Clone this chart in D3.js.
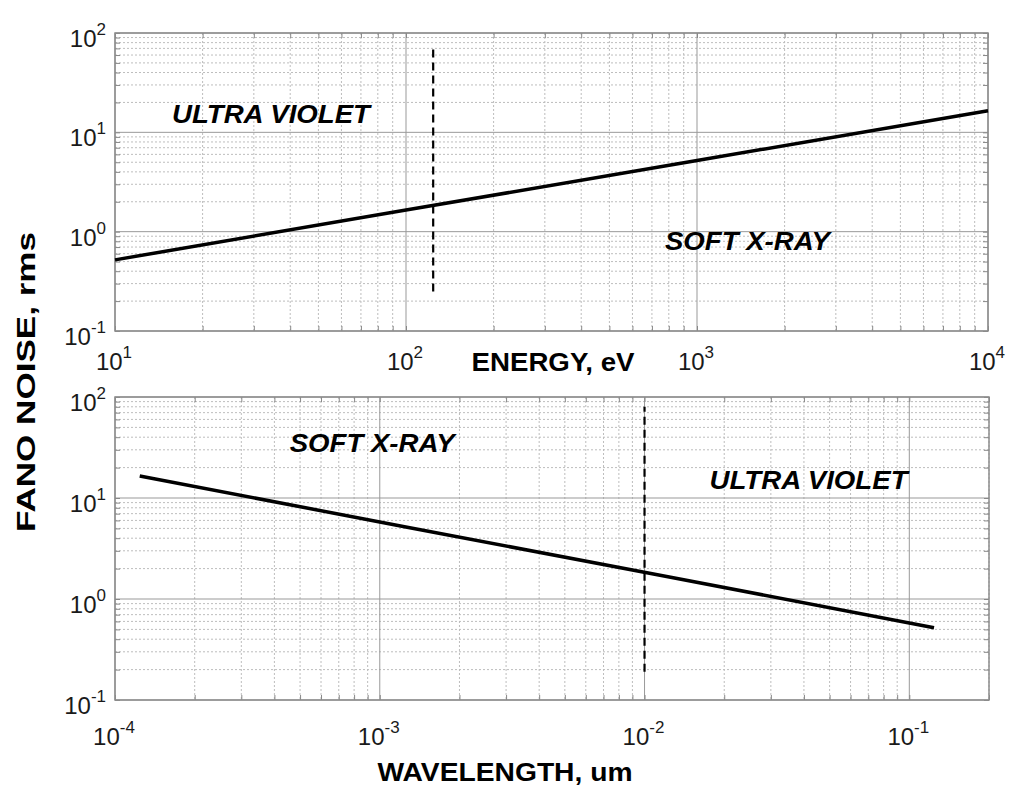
<!DOCTYPE html>
<html>
<head>
<meta charset="utf-8">
<script src="https://cdn.jsdelivr.net/npm/d3@7"></script>
<style>
	body { margin: 0; background: #fff; }
	svg { display: block; font-family: "Liberation Sans", Arial, sans-serif; }
</style>
</head>
<body>
<div id="chart"></div>
<script>
var width = 1024;
var height = 797;

// data
var energy = [10, 100, 1000, 10000];
var fanoEnergy = [0.52, 1.65, 5.2, 16.5];
var wavelength = [1.24e-4, 1.24e-3, 1.24e-2, 0.124];
var fanoWave = [16.5, 5.2, 1.65, 0.52];
var energyTicks = [10, 100, 1000, 10000];
var waveTicks = [1e-4, 1e-3, 1e-2, 1e-1];
var noiseTicks = [0.1, 1, 10, 100];
var boundaryEnergy = 124;
var boundaryWave = 0.01;
var dashTop = [0.25, 75];
var dashBottom = [0.19, 80];
var labelsTop = [
	{ text: "ULTRA VIOLET", x: 15.7, y: 12.4, len: 198 },
	{ text: "SOFT X-RAY", x: 776, y: 0.65, len: 165 },
];
var labelsBottom = [
	{ text: "SOFT X-RAY", x: 4.57e-4, y: 28.5, len: 165 },
	{ text: "ULTRA VIOLET", x: 0.0176, y: 12.3, len: 198 },
];

var svg = d3
	.select("#chart")
	.append("svg")
	.attr("width", width)
	.attr("height", height);

function tenTo(sel, d) {
	sel.text(null);
	sel.append("tspan").text("10");
	sel.append("tspan")
		.attr("dy", -12)
		.attr("font-size", 17)
		.text(Math.round(Math.log10(d)));
}

function drawPanel(p) {
	var x = d3.scaleLog().domain(p.xDomain).range([p.left, p.right]);
	var y = d3.scaleLog().domain([0.1, 100]).range([p.bottom, p.top]);
	var g = svg.append("g");

	var xAll = x.ticks();
	var yAll = y.ticks();
	var isMajor = (d) => Math.abs(Math.log10(d) - Math.round(Math.log10(d))) < 1e-6;

	// minor grid
	g.selectAll(".vminor")
		.data(xAll.filter((d) => !isMajor(d)))
		.enter()
		.append("line")
		.attr("x1", (d) => x(d)).attr("x2", (d) => x(d))
		.attr("y1", p.top).attr("y2", p.bottom)
		.attr("stroke", "#bdbdbd").attr("stroke-dasharray", "2,2");
	g.selectAll(".hminor")
		.data(yAll.filter((d) => !isMajor(d)))
		.enter()
		.append("line")
		.attr("y1", (d) => y(d)).attr("y2", (d) => y(d))
		.attr("x1", p.left).attr("x2", p.right)
		.attr("stroke", "#bdbdbd").attr("stroke-dasharray", "2,2");

	// major grid
	g.selectAll(".vmajor")
		.data(p.xTicks)
		.enter()
		.append("line")
		.attr("x1", (d) => x(d)).attr("x2", (d) => x(d))
		.attr("y1", p.top).attr("y2", p.bottom)
		.attr("stroke", "#999");
	g.selectAll(".hmajor")
		.data(noiseTicks)
		.enter()
		.append("line")
		.attr("y1", (d) => y(d)).attr("y2", (d) => y(d))
		.attr("x1", p.left).attr("x2", p.right)
		.attr("stroke", "#999");

	// inward ticks on all four sides
	var tickStyle = function (sel) {
		sel.select(".domain").remove();
		sel.selectAll("line").attr("stroke", "#888");
		sel.selectAll("text").remove();
	};
	g.append("g").attr("transform", `translate(0,${p.bottom})`)
		.call(d3.axisBottom(x).tickValues(xAll).tickSize(-5)).call(tickStyle);
	g.append("g").attr("transform", `translate(0,${p.top})`)
		.call(d3.axisTop(x).tickValues(xAll).tickSize(-5)).call(tickStyle);
	g.append("g").attr("transform", `translate(${p.left},0)`)
		.call(d3.axisLeft(y).tickValues(yAll).tickSize(-5)).call(tickStyle);
	g.append("g").attr("transform", `translate(${p.right},0)`)
		.call(d3.axisRight(y).tickValues(yAll).tickSize(-5)).call(tickStyle);

	// frame
	g.append("rect")
		.attr("x", p.left).attr("y", p.top)
		.attr("width", p.right - p.left).attr("height", p.bottom - p.top)
		.attr("fill", "none").attr("stroke", "#8c8c8c").attr("stroke-width", 1.5);

	// tick labels
	g.selectAll(".xlab")
		.data(p.xTicks)
		.enter()
		.append("text")
		.attr("x", (d) => x(d) - 1)
		.attr("y", p.bottom + p.labelGap)
		.attr("text-anchor", "middle")
		.attr("font-size", 24)
		.attr("fill", "#1a1a1a")
		.each(function (d) { tenTo(d3.select(this), d); });
	g.selectAll(".ylab")
		.data(noiseTicks)
		.enter()
		.append("text")
		.attr("x", p.left - 9)
		.attr("y", (d) => y(d) + 14)
		.attr("text-anchor", "end")
		.attr("font-size", 24)
		.attr("fill", "#1a1a1a")
		.each(function (d) { tenTo(d3.select(this), d); });

	// boundary
	g.append("line")
		.attr("x1", x(p.boundary)).attr("x2", x(p.boundary))
		.attr("y1", y(p.dash[0])).attr("y2", y(p.dash[1]))
		.attr("stroke", "#000").attr("stroke-width", 2.2)
		.attr("stroke-dasharray", "8,5");

	// fano curve
	var line = d3.line()
		.x((d) => x(d[0]))
		.y((d) => y(d[1]));
	g.append("path")
		.datum(p.xs.map((d, i) => [d, p.ys[i]]))
		.attr("d", line)
		.attr("fill", "none")
		.attr("stroke", "#000")
		.attr("stroke-width", 3.5);

	// region labels
	g.selectAll(".region")
		.data(p.labels)
		.enter()
		.append("text")
		.attr("x", (d) => x(d.x))
		.attr("y", (d) => y(d.y))
		.attr("font-size", 25)
		.attr("font-weight", "bold")
		.attr("font-style", "italic")
		.attr("textLength", (d) => d.len)
		.attr("lengthAdjust", "spacingAndGlyphs")
		.text((d) => d.text);

	// axis title
	g.append("text")
		.attr("x", p.titleX)
		.attr("y", p.titleY)
		.attr("text-anchor", "middle")
		.attr("font-size", 25)
		.attr("font-weight", "bold")
		.attr("textLength", p.titleLen)
		.attr("lengthAdjust", "spacingAndGlyphs")
		.text(p.title);
}

drawPanel({
	left: 115, right: 988, top: 33, bottom: 331,
	xDomain: [10, 10000], xTicks: energyTicks,
	xs: energy, ys: fanoEnergy,
	boundary: boundaryEnergy, dash: dashTop,
	labels: labelsTop, labelGap: 39,
	title: "ENERGY, eV", titleX: 553, titleY: 371, titleLen: 163,
});

drawPanel({
	left: 115, right: 989, top: 397, bottom: 700,
	xDomain: [1e-4, 0.2], xTicks: waveTicks,
	xs: wavelength, ys: fanoWave,
	boundary: boundaryWave, dash: dashBottom,
	labels: labelsBottom, labelGap: 45,
	title: "WAVELENGTH, um", titleX: 505, titleY: 781, titleLen: 255,
});

svg.append("text")
	.attr("transform", "translate(35,382) rotate(-90)")
	.attr("text-anchor", "middle")
	.attr("font-size", 26)
	.attr("font-weight", "bold")
	.attr("textLength", 300)
	.attr("lengthAdjust", "spacingAndGlyphs")
	.text("FANO NOISE, rms");
</script>
</body>
</html>
